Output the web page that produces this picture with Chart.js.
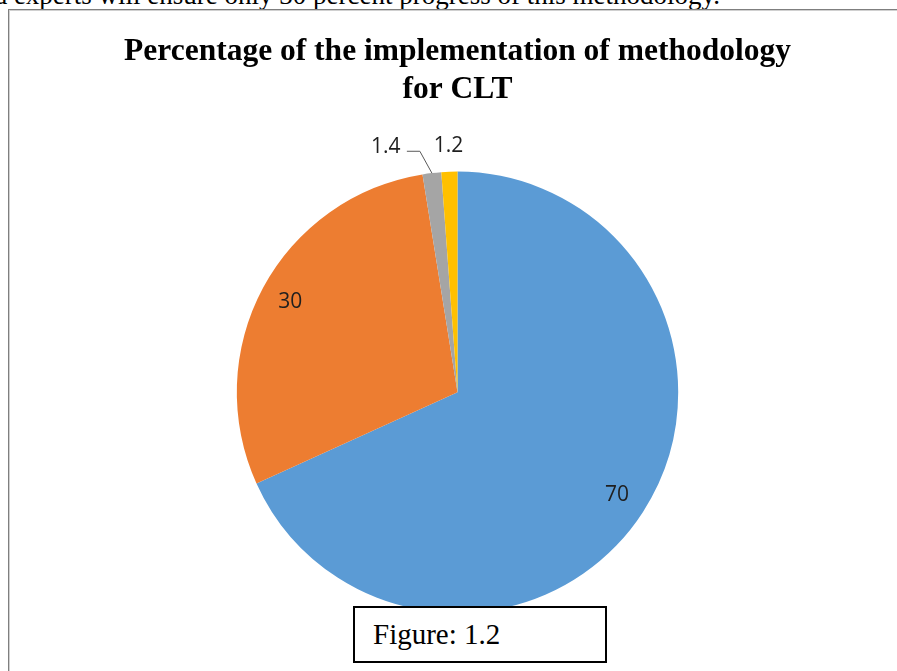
<!DOCTYPE html>
<html>
<head>
<meta charset="utf-8">
<script src="https://cdn.jsdelivr.net/npm/chart.js@4.4.1/dist/chart.umd.min.js"></script>
<style>
    body {
        margin: 0;
        width: 897px;
        height: 671px;
        overflow: hidden;
        background: #ffffff;
        position: relative;
    }

    .doc-text {
        position: absolute;
        right: 177px;
        top: -18px;
        font: 27px 'Liberation Serif', 'Times New Roman', serif;
        line-height: 27px;
        white-space: nowrap;
        color: #000000;
    }

    .chart-frame {
        position: absolute;
        left: 8px;
        top: 9px;
        width: 1000px;
        height: 1000px;
        border-left: 1px solid #7f7f7f;
        border-top: 1px solid #7f7f7f;
        box-shadow: inset 1px 1px 0 #d0d0d0;
        background: #ffffff;
    }

    #chart {
        position: absolute;
        left: 18px;
        top: 0;
    }

    .figure-box {
        position: absolute;
        left: 353px;
        top: 606px;
        width: 254px;
        height: 57px;
        box-sizing: border-box;
        border: 2px solid #000000;
        background: #ffffff;
        padding: 12px 0 0 18px;
        font: 29px 'Liberation Serif', 'Times New Roman', serif;
        line-height: 29px;
        z-index: 2;
    }
</style>
</head>
<body>
<div class="doc-text">and experts will ensure only 30 percent progress of this methodology.</div>
<div class="chart-frame"></div>
<canvas id="chart" width="879" height="671"></canvas>
<div class="figure-box">Figure: 1.2</div>

<script>
const categories = ['Slice 1', 'Slice 2', 'Slice 3', 'Slice 4'];
const values = [70, 30, 1.4, 1.2];
const sliceColors = ['#5b9bd5', '#ed7d31', '#a5a5a5', '#ffc000'];
const titleLines = ['Percentage of the implementation of methodology', 'for CLT'];

// data labels: big slices inside, small ones outside (grey one pulled left with a leader line)
const sliceLabels = {
    id: 'sliceLabels',
    afterDatasetsDraw(chart) {
        const ctx = chart.ctx;
        const arcs = chart.getDatasetMeta(0).data;

        ctx.save();
        ctx.font = '21px "Open Sans", "Liberation Sans", sans-serif';
        ctx.fillStyle = '#1f1f1f';
        ctx.textAlign = 'center';
        ctx.textBaseline = 'middle';

        arcs.forEach((arc, i) => {
            const mid = (arc.startAngle + arc.endAngle) / 2;
            const r = arc.outerRadius;
            const text = String(values[i]);

            if (values[i] >= 10) {
                ctx.fillText(text, arc.x + Math.cos(mid) * r * 0.86, arc.y + Math.sin(mid) * r * 0.86);
                return;
            }

            let lx = arc.x + Math.cos(mid) * (r + 26);
            const ly = arc.y + Math.sin(mid) * (r + 26);

            if (i === 2) {
                lx -= 43;
                ctx.strokeStyle = '#595959';
                ctx.lineWidth = 1;
                ctx.beginPath();
                ctx.moveTo(arc.x + Math.cos(mid) * r, arc.y + Math.sin(mid) * r);
                ctx.lineTo(lx + 34, ly + 4);
                ctx.lineTo(lx + 21, ly + 4);
                ctx.stroke();
            }

            ctx.fillText(text, lx, ly);
        });

        ctx.restore();
    }
};

new Chart(document.getElementById('chart'), {
    type: 'pie',
    data: {
        labels: categories,
        datasets: [
            {
                data: values,
                backgroundColor: sliceColors,
                borderWidth: 0
            }
        ]
    },
    options: {
        responsive: false,
        animation: false,
        layout: {
            padding: {
                top: 0,
                bottom: 58
            }
        },
        plugins: {
            legend: {
                display: false
            },
            tooltip: {
                enabled: false
            },
            title: {
                display: true,
                text: titleLines,
                color: '#000000',
                font: {
                    family: "'Liberation Serif', 'Times New Roman', serif",
                    size: 31.5,
                    weight: 'bold',
                    lineHeight: 1.2
                },
                padding: {
                    top: 33,
                    bottom: 63
                }
            }
        }
    },
    plugins: [sliceLabels]
});
</script>
</body>
</html>
